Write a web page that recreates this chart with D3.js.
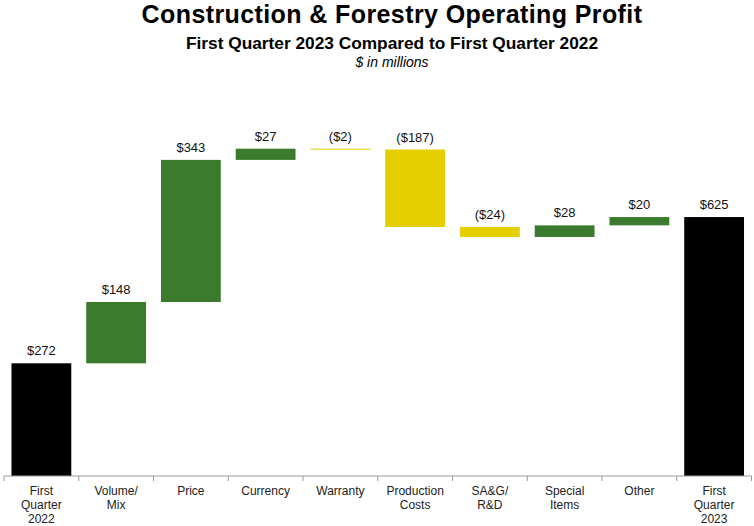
<!DOCTYPE html>
<html>
<head>
<meta charset="utf-8">
<script src="https://cdn.jsdelivr.net/npm/d3@7"></script>
<style>
  body { margin: 0; background: #fff; }
  text { font-family: "Liberation Sans", Arial, sans-serif; }
</style>
</head>
<body>
<div id="chart"></div>
<script>
var svgWidth = 754;
var svgHeight = 526;

// categories, label lines and values ($ millions)
var categories = ["q22", "vol", "price", "curr", "warr", "prod", "sag", "spec", "other", "q23"];
var catLabels = [
  ["First", "Quarter", "2022"], ["Volume/", "Mix"], ["Price"], ["Currency"], ["Warranty"],
  ["Production", "Costs"], ["SA&G/", "R&D"], ["Special", "Items"], ["Other"], ["First", "Quarter", "2023"]
];
var values = [272, 148, 343, 27, -2, -187, -24, 28, 20, 625];
var kinds = ["total", "delta", "delta", "delta", "delta", "delta", "delta", "delta", "delta", "total"];
var valueLabels = ["$272", "$148", "$343", "$27", "($2)", "($187)", "($24)", "$28", "$20", "$625"];

var svg = d3.select("#chart")
  .append("svg")
  .attr("width", svgWidth)
  .attr("height", svgHeight);

// titles
svg.append("text")
  .attr("x", 392).attr("y", 23)
  .attr("text-anchor", "middle")
  .attr("font-size", "25px")
  .attr("font-weight", "bold")
  .attr("letter-spacing", "0.4px")
  .text("Construction & Forestry Operating Profit");

svg.append("text")
  .attr("x", 392).attr("y", 49)
  .attr("text-anchor", "middle")
  .attr("font-size", "17.3px")
  .attr("font-weight", "bold")
  .text("First Quarter 2023 Compared to First Quarter 2022");

svg.append("text")
  .attr("x", 392).attr("y", 67)
  .attr("text-anchor", "middle")
  .attr("font-size", "14px")
  .attr("font-style", "italic")
  .text("$ in millions");

// build waterfall segments
var running = 0;
var bars = values.map(function(v, i) {
  var lo, hi;
  if (kinds[i] === "total") {
    lo = 0; hi = v; running = v;
  } else {
    var start = running;
    running = running + v;
    lo = Math.min(start, running);
    hi = Math.max(start, running);
  }
  return { key: categories[i], lo: lo, hi: hi, v: v, kind: kinds[i], label: valueLabels[i] };
});

var x = d3.scaleBand()
  .domain(categories)
  .range([4, 751.5])
  .paddingInner(0.2)
  .paddingOuter(0.1);

var y = d3.scaleLinear()
  .domain([0, 1000])
  .range([476, 61.7]);

function color(d) {
  if (d.kind === "total") return "#000000";
  return d.v >= 0 ? "#3a7b2d" : "#e5cf00";
}

svg.selectAll("rect.bar")
  .data(bars)
  .enter()
  .append("rect")
  .attr("class", "bar")
  .attr("x", d => x(d.key))
  .attr("width", x.bandwidth())
  .attr("y", d => y(d.hi))
  .attr("height", d => Math.max(1, y(d.lo) - y(d.hi)))
  .attr("fill", color);

svg.selectAll("text.val")
  .data(bars)
  .enter()
  .append("text")
  .attr("class", "val")
  .attr("x", d => x(d.key) + x.bandwidth() / 2)
  .attr("y", d => y(d.hi) - 8)
  .attr("text-anchor", "middle")
  .attr("font-size", "13px")
  .attr("fill", "#111")
  .text(d => d.label);

// category axis with ticks between categories
var half = x.step() * x.paddingInner() / 2;
var bounds = categories.map(c => x(c) - half);
bounds.push(x(categories[categories.length - 1]) + x.bandwidth() + half);

var axis = svg.append("g");
axis.append("line")
  .attr("x1", bounds[0]).attr("x2", bounds[bounds.length - 1])
  .attr("y1", y(0)).attr("y2", y(0))
  .attr("stroke", "#999").attr("stroke-width", 1);

axis.selectAll("line.tick")
  .data(bounds)
  .enter()
  .append("line")
  .attr("class", "tick")
  .attr("x1", d => d).attr("x2", d => d)
  .attr("y1", y(0)).attr("y2", y(0) + 5)
  .attr("stroke", "#999");

var lbl = axis.selectAll("text.cat")
  .data(categories)
  .enter()
  .append("text")
  .attr("class", "cat")
  .attr("text-anchor", "middle")
  .attr("font-size", "12px")
  .attr("fill", "#222");

lbl.each(function(c, i) {
  var t = d3.select(this);
  catLabels[i].forEach(function(line, j) {
    t.append("tspan")
      .attr("x", x(c) + x.bandwidth() / 2)
      .attr("y", 495 + j * 14)
      .text(line);
  });
});
</script>
</body>
</html>
